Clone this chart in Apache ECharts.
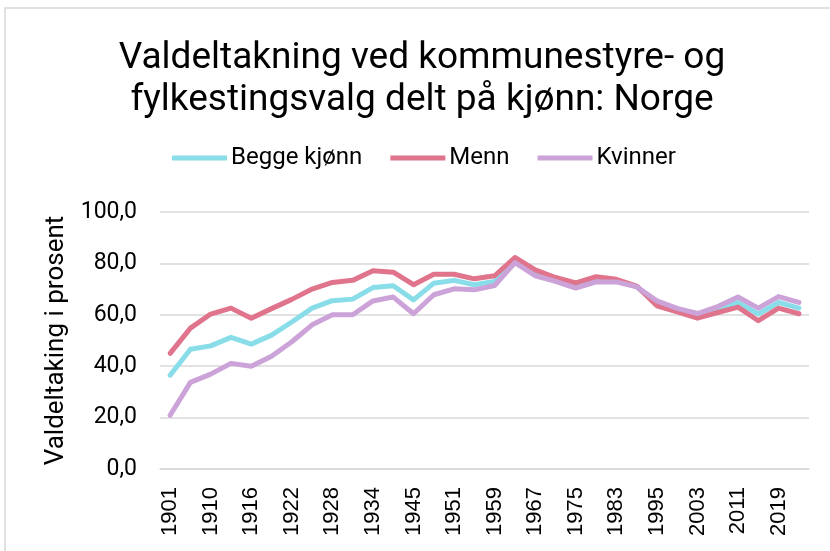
<!DOCTYPE html>
<html>
<head>
<meta charset="utf-8">
<script src="https://cdn.jsdelivr.net/npm/echarts@6/dist/echarts.min.js"></script>
<style>
  html, body { margin: 0; padding: 0; background: #fff; }
  #main { width: 830px; height: 551px; }
</style>
</head>
<body>
<div id="main"></div>
<script>
// valgår (kategoriar)
var years = ['1901', '1907', '1910', '1913', '1916', '1919', '1922', '1925', '1928', '1931',
  '1934', '1937', '1945', '1947', '1951', '1955', '1959', '1963', '1967', '1971',
  '1975', '1979', '1983', '1987', '1995', '1999', '2003', '2007', '2011', '2015',
  '2019', '2023'];

var begge = [36.5, 46.6, 47.9, 51.2, 48.6, 52.1, 57.2, 62.6, 65.5, 66.1,
  70.6, 71.3, 65.8, 72.3, 73.4, 71.7, 73.0, 81.0, 76.8, 73.9,
  71.5, 73.9, 73.4, 71.0, 64.4, 61.8, 59.6, 62.0, 64.8, 60.3,
  64.8, 62.6];
var menn = [45.0, 54.8, 60.3, 62.6, 58.7, 62.4, 66.0, 70.0, 72.6, 73.4,
  77.1, 76.6, 71.7, 75.8, 75.8, 74.0, 75.2, 82.3, 77.5, 74.5,
  72.4, 74.8, 73.8, 71.2, 63.5, 61.1, 58.7, 60.9, 63.0, 57.7,
  62.6, 60.4];
var kvinner = [20.9, 33.7, 36.9, 41.1, 40.0, 43.9, 49.5, 56.1, 60.0, 60.0,
  65.4, 66.9, 60.4, 67.8, 70.1, 69.7, 71.4, 80.3, 75.2, 73.0,
  70.4, 72.8, 72.8, 70.9, 65.4, 62.5, 60.5, 63.2, 66.9, 62.6,
  67.1, 64.8];

var chart = echarts.init(document.getElementById('main'));

function lineSeries(name, data, color) {
  return {
    name: name,
    type: 'line',
    data: data,
    symbol: 'none',
    lineStyle: { width: 5, color: color, join: 'round', cap: 'round' },
    itemStyle: { color: color },
    emphasis: { disabled: true }
  };
}

var option = {
  animation: false,
  graphic: [{
    type: 'rect',
    shape: { x: 5, y: 8, width: 840, height: 560 },
    style: { fill: 'none', stroke: '#d9d9d9', lineWidth: 1.5 },
    silent: true
  }],
  title: {
    text: 'Valdeltakning ved kommunestyre- og\nfylkestingsvalg delt på kjønn: Norge',
    left: 422,
    textAlign: 'center',
    top: 38,
    padding: 0,
    textStyle: {
      fontFamily: 'Roboto',
      fontSize: 37,
      fontWeight: 'normal',
      color: '#000',
      lineHeight: 42
    }
  },
  legend: {
    top: 146,
    left: 172,
    padding: 0,
    itemWidth: 55,
    itemHeight: 5,
    itemGap: 28,
    icon: 'rect',
    textStyle: { fontFamily: 'Roboto', fontSize: 24, color: '#000', padding: [0, 0, 0, -1] },
    data: ['Begge kjønn', 'Menn', 'Kvinner']
  },
  grid: {
    left: 160,
    right: 21,
    top: 212,
    bottom: 82,
    containLabel: false
  },
  xAxis: {
    type: 'category',
    boundaryGap: true,
    data: years,
    axisLine: { lineStyle: { color: '#d9d9d9', width: 1.5 } },
    axisTick: { show: false },
    axisLabel: {
      interval: 1,
      rotate: 90,
      margin: 18,
      fontFamily: 'Liberation Sans',
      fontSize: 22,
      color: '#000'
    }
  },
  yAxis: {
    type: 'value',
    min: 0,
    max: 100,
    interval: 20,
    name: 'Valdeltaking i prosent',
    nameLocation: 'middle',
    nameRotate: 90,
    nameGap: 80,
    nameTextStyle: { fontFamily: 'Roboto', fontSize: 26, color: '#000' },
    axisLine: { show: false },
    axisTick: { show: false },
    splitLine: { lineStyle: { color: '#d9d9d9', width: 1.5 } },
    axisLabel: {
      margin: 23,
      fontFamily: 'Roboto',
      fontSize: 23,
      color: '#000',
      formatter: function (v) { return v.toFixed(1).replace('.', ','); }
    }
  },
  series: [
    lineSeries('Begge kjønn', begge, '#89dde9'),
    lineSeries('Menn', menn, '#e0748c'),
    lineSeries('Kvinner', kvinner, '#cba3d8')
  ]
};

chart.setOption(option);
</script>
</body>
</html>
